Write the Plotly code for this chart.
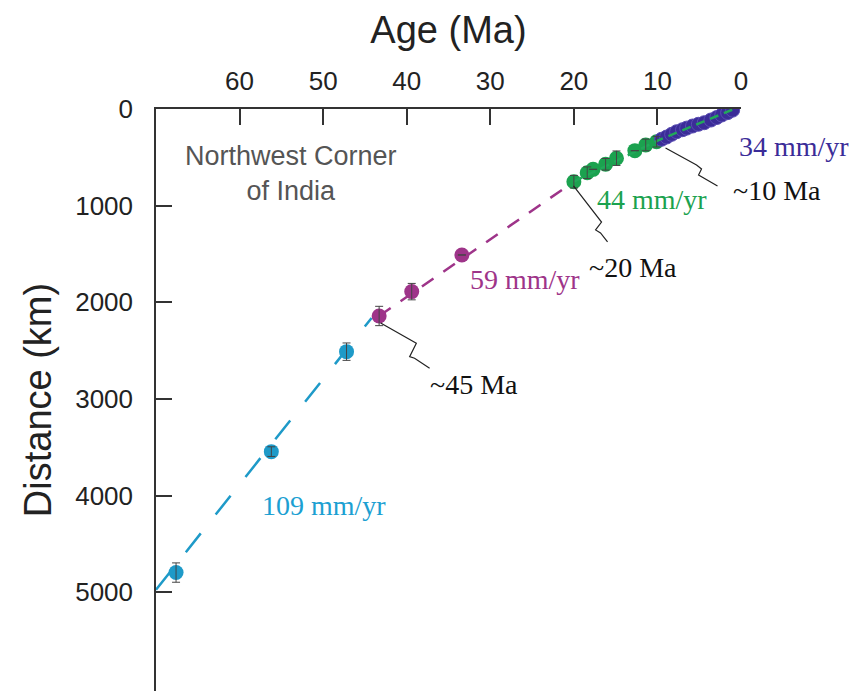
import plotly.graph_objects as go

# ---- data ----
cyan_age = [67.6, 56.2, 47.2]
cyan_dist = [4795, 3544, 2510]
cyan_err = [100, 50, 90]

purple_age = [43.3, 39.4, 33.4]
purple_dist = [2141, 1889, 1510]
purple_err = [100, 85, 0]

green_age = [20.0, 18.4, 17.7, 16.2, 14.9, 12.7, 11.4, 10.1]
green_dist = [752, 659, 624, 572, 509, 431, 372, 338]
green_err = [65, 60, 0, 60, 75, 0, 60, 55]

blue_age = [9.5, 8.9, 8.3, 7.7, 7.0, 6.5, 5.8, 5.1, 4.4, 3.6, 2.9, 2.3, 1.6, 1.0]
blue_dist = [313, 290, 262, 235, 214, 198, 176, 158, 142, 114, 88, 62, 38, 12]

# fitted rate lines (age, distance)
cyan_line_age = [70.0, 44.2]
cyan_line_dist = [4973, 2161]
purple_line_age = [43.3, 20.0]
purple_line_dist = [2141, 752]
green_line_age = [20.0, 9.8, 0.7]
green_line_dist = [752, 320, -5]

x_ticks = [60, 50, 40, 30, 20, 10, 0]
y_ticks = [0, 1000, 2000, 3000, 4000, 5000]

C_CYAN = "#1e9ac8"
C_PURPLE = "#9e3489"
C_GREEN = "#1ba24f"
C_BLUE = "#3b2c98"
ERR_C = "#444444"

fig = go.Figure()

# lines
fig.add_trace(go.Scatter(x=cyan_line_age, y=cyan_line_dist, mode="lines",
                         line=dict(color=C_CYAN, width=2.5, dash="24px,24px"),
                         hoverinfo="skip"))
fig.add_trace(go.Scatter(x=purple_line_age, y=purple_line_dist, mode="lines",
                         line=dict(color=C_PURPLE, width=2.5, dash="14px,12px"),
                         hoverinfo="skip"))

# markers
fig.add_trace(go.Scatter(x=cyan_age, y=cyan_dist, mode="markers",
                         marker=dict(color=C_CYAN, size=15)))
fig.add_trace(go.Scatter(x=purple_age, y=purple_dist, mode="markers",
                         marker=dict(color=C_PURPLE, size=15)))
fig.add_trace(go.Scatter(x=green_age, y=green_dist, mode="markers",
                         marker=dict(color=C_GREEN, size=15)))
fig.add_trace(go.Scatter(x=blue_age, y=blue_dist, mode="markers",
                         marker=dict(color=C_BLUE, size=14,
                                     line=dict(color="#5a4db3", width=1))))
fig.add_trace(go.Scatter(x=green_line_age, y=green_line_dist, mode="lines",
                         line=dict(color="#22a85a", width=2.5, dash="9px,6px"),
                         hoverinfo="skip"))

# error bars drawn on top of markers
for ax_, ay_, ae_ in [(cyan_age, cyan_dist, cyan_err),
                      (purple_age, purple_dist, purple_err),
                      (green_age, green_dist, green_err)]:
    fig.add_trace(go.Scatter(x=ax_, y=ay_, mode="markers",
                             marker=dict(size=1, opacity=0),
                             error_y=dict(type="data", array=ae_, visible=True,
                                          color=ERR_C, thickness=1, width=4),
                             hoverinfo="skip"))

# leader lines (age, distance)
leaders = [
    [(43.12, 2213), (38.85, 2423), (39.65, 2562), (39.06, 2578), (37.26, 2681)],
    [(20.04, 796), (16.69, 1169), (17.40, 1251), (16.81, 1282), (15.97, 1375)],
    [(9.03, 403), (5.32, 579), (4.72, 620), (5.08, 683), (2.81, 796)],
]
for pts in leaders:
    fig.add_trace(go.Scatter(x=[p[0] for p in pts], y=[p[1] for p in pts],
                             mode="lines", line=dict(color="#222222", width=1.2),
                             hoverinfo="skip"))

serif = "Liberation Serif, Times New Roman, serif"
# labels inside the axis range: data coordinates
labels = [
    ("44 mm/yr", 10.6, 941, C_GREEN, serif, 28),
    ("~20 Ma", 12.9, 1644, "#111111", serif, 28),
    ("59 mm/yr", 25.9, 1768, C_PURPLE, serif, 28),
    ("~45 Ma", 32.0, 2854, "#111111", serif, 28),
    ("109 mm/yr", 49.9, 4105, "#1ca0d2", serif, 28),
    ("Northwest Corner<br>of India", 53.9, 662, "#555555",
     "Liberation Sans, Arial, sans-serif", 27),
]
for txt, x, y, col, fam, sz in labels:
    fig.add_annotation(x=x, y=y, xref="x", yref="y", text=txt, showarrow=False,
                       font=dict(family=fam, size=sz, color=col),
                       xanchor="center", yanchor="middle")

# labels right of the axis range: paper x, data y
side_labels = [
    ("34 mm/yr", 1.0906, 393, C_BLUE),
    ("~10 Ma", 1.0615, 838, "#111111"),
]
for txt, x, y, col in side_labels:
    fig.add_annotation(x=x, y=y, xref="paper", yref="y", text=txt, showarrow=False,
                       font=dict(family=serif, size=28, color=col),
                       xanchor="center", yanchor="middle")

sans = "Liberation Sans, Arial, sans-serif"
fig.update_layout(
    width=856, height=691,
    margin=dict(l=156, r=115, t=109, b=0),
    paper_bgcolor="white", plot_bgcolor="white",
    showlegend=False,
    font=dict(family=sans, color="#222222"),
    xaxis=dict(side="top", range=[70, 0], tickvals=x_ticks,
               ticks="inside", ticklen=16, tickwidth=1.5, tickcolor="#333333",
               showline=True, linecolor="#333333", linewidth=1.5,
               showgrid=False, zeroline=False,
               tickfont=dict(size=26, color="#222222"),
               ticklabelstandoff=7,
               title=dict(text="Age (Ma)", font=dict(size=38, color="#222222"),
                          standoff=11)),
    yaxis=dict(range=[6020, 0], tickvals=y_ticks,
               ticks="inside", ticklen=16, tickwidth=1.5, tickcolor="#333333",
               showline=True, linecolor="#333333", linewidth=1.5,
               showgrid=False, zeroline=False,
               tickfont=dict(size=26, color="#222222"),
               ticklabelstandoff=16,
               title=dict(text="Distance (km)", font=dict(size=38, color="#222222"),
                          standoff=12)),
)

fig.write_html("out.html")
